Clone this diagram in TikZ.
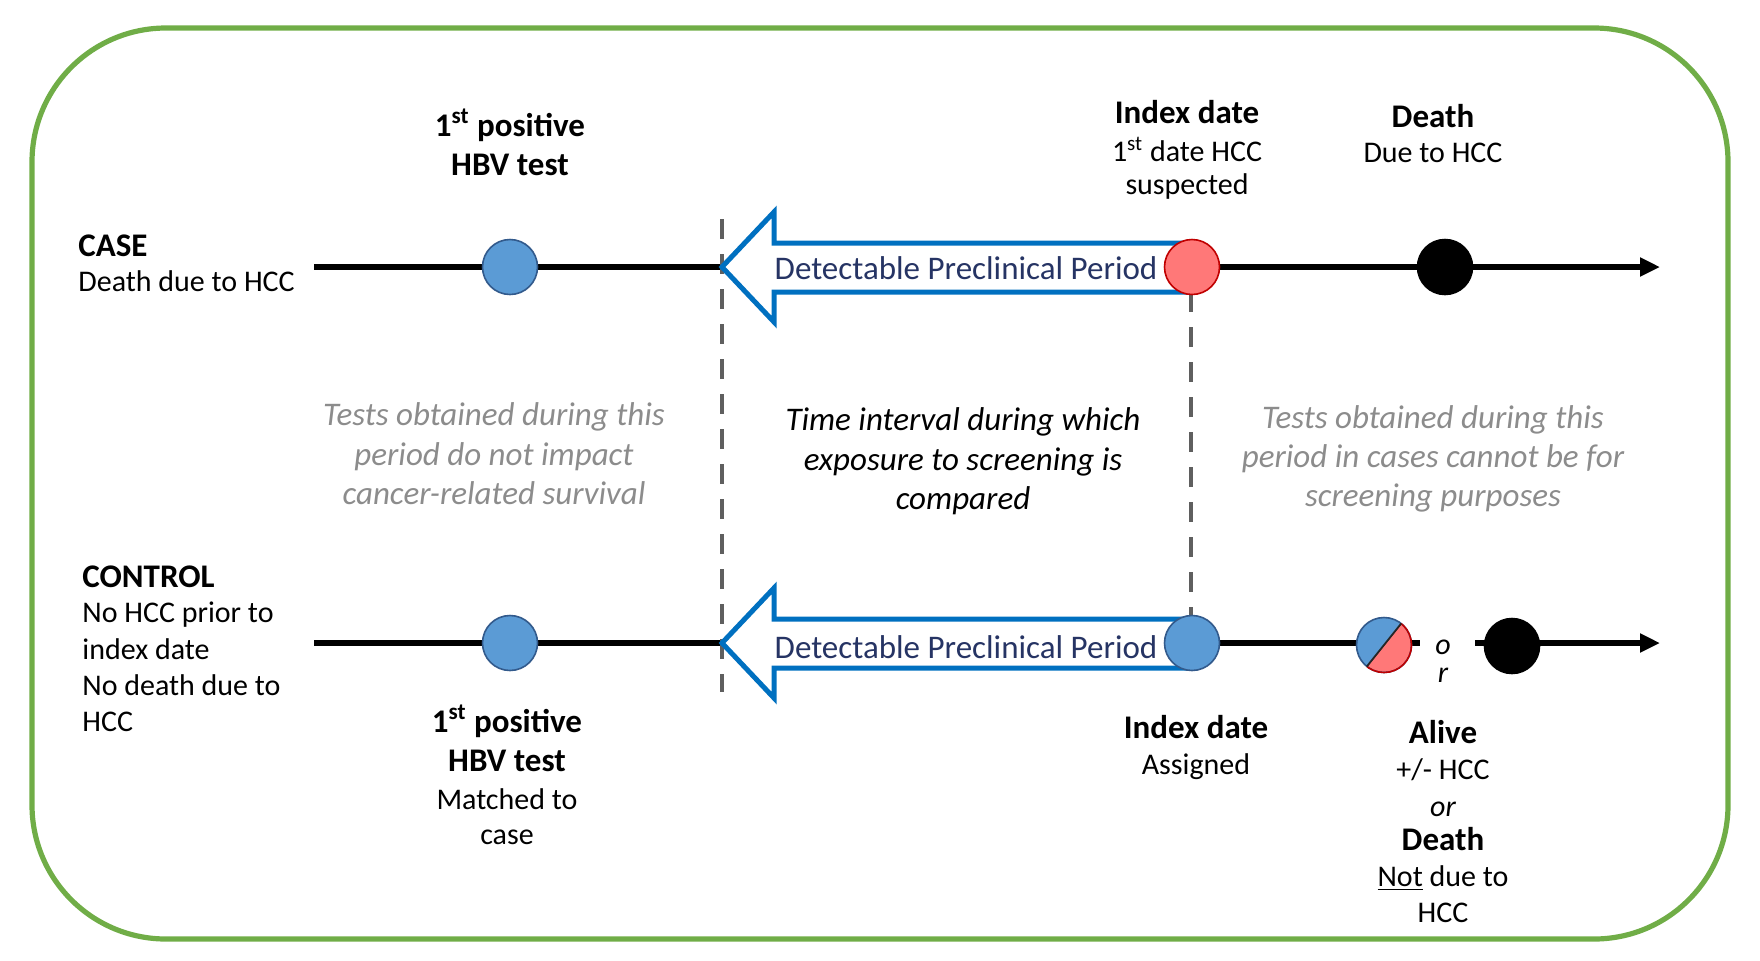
\documentclass[tikz,border=0pt]{standalone}
\usepackage{fontspec}
\setmainfont{Carlito}
\usetikzlibrary{arrows.meta}
\definecolor{boxgreen}{RGB}{112,173,71}
\definecolor{dotblue}{RGB}{91,155,213}
\definecolor{dotblueb}{RGB}{50,90,140}
\definecolor{dotred}{RGB}{255,120,120}
\definecolor{dotredb}{RGB}{192,0,0}
\definecolor{arrblue}{RGB}{0,112,192}
\definecolor{navytext}{RGB}{38,52,100}
\definecolor{graytext}{RGB}{140,140,140}
\definecolor{dashgray}{RGB}{95,95,95}
\tikzset{
  reg/.style={font=\fontsize{15}{18}\selectfont, inner sep=0pt, anchor=base},
  bld/.style={font=\bfseries\fontsize{16.5}{20}\selectfont, inner sep=0pt, anchor=base},
  itg/.style={font=\itshape\fontsize{16.5}{20}\selectfont, text=graytext, inner sep=0pt, anchor=base},
  itb/.style={font=\itshape\fontsize{16.5}{20}\selectfont, inner sep=0pt, anchor=base},
  itr/.style={font=\itshape\fontsize{15}{18}\selectfont, inner sep=0pt, anchor=base},
  dpp/.style={font=\fontsize{16.5}{20}\selectfont, text=navytext, inner sep=0pt, anchor=base},
  dot/.style={circle, minimum size=27.5pt, inner sep=0pt, line width=0.8pt},
  bluedot/.style={dot, fill=dotblue, draw=dotblueb},
  reddot/.style={dot, fill=dotred, draw=dotredb},
  blackdot/.style={dot, fill=black, draw=black},
  timeline/.style={line width=2.8pt},
  tlarrow/.style={timeline, -{Triangle[length=10pt,width=9pt]}},
  vdash/.style={draw=dashgray, line width=2pt, dash pattern=on 10pt off 7.5pt},
  blockarrow/.style={draw=arrblue, fill=white, line width=2.5pt, line join=miter}
}
\begin{document}
\begin{tikzpicture}[x=0.5pt,y=-0.5pt]
\useasboundingbox (0,0) rectangle (1760,960);
\draw[boxgreen, line width=2.6pt, rounded corners=67pt] (32,28) rectangle (1728,939);

% coordinates
\coordinate (caseStart) at (314,267);
\coordinate (caseEnd) at (1660,267);
\coordinate (ctrlStart) at (314,643);
\coordinate (ctrlGapA) at (1420,643);
\coordinate (ctrlGapB) at (1475,643);
\coordinate (ctrlEnd) at (1660,643);
\coordinate (dashLtop) at (722,219);
\coordinate (dashLbot) at (722,692);
\coordinate (dashRtop) at (1191,292);
\coordinate (dashRbot) at (1191,623);

% timelines
\draw[tlarrow] (caseStart) -- (caseEnd);
\draw[timeline] (ctrlStart) -- (ctrlGapA);
\draw[tlarrow] (ctrlGapB) -- (ctrlEnd);

% dashed separators
\draw[vdash] (dashLtop) -- (dashLbot);
\draw[vdash] (dashRtop) -- (dashRbot);

% block arrows
\draw[blockarrow] (722,267) -- (774,212) -- (774,243) -- (1190,243) -- (1190,292) -- (774,292) -- (774,322) -- cycle;
\draw[blockarrow] (722,643) -- (774,588) -- (774,619) -- (1190,619) -- (1190,668) -- (774,668) -- (774,698) -- cycle;
\node[dpp] (dppCase) at (966,279) {Detectable Preclinical Period};
\node[dpp] (dppCtrl) at (966,658) {Detectable Preclinical Period};

% case dots
\node[bluedot] (caseHBV) at (510,267) {};
\node[reddot] (caseIndex) at (1192,267) {};
\node[blackdot] (caseDeath) at (1445,267) {};

% control dots
\node[bluedot] (ctrlHBV) at (510,643) {};
\node[bluedot] (ctrlIndex) at (1192,643) {};
\coordinate (splitc) at (1384,645);
\begin{scope}
  \clip (splitc) circle[radius=13.75pt];
  \fill[dotblue] (splitc) circle[radius=13.75pt];
  \fill[dotred] (1344,695) -- (1424,595) -- (1460,720) -- cycle;
\end{scope}
\node[dot, draw=dotblueb] (ctrlSplit) at (splitc) {};
\begin{scope}
  \clip (1344,695) -- (1424,595) -- (1460,720) -- cycle;
  \draw[dotredb, line width=0.8pt] (splitc) circle[radius=13.75pt];
\end{scope}
\draw[line width=0.9pt, draw=black!85] (1366.8,666.5) -- (1401.2,623.5);
\node[blackdot] (ctrlDeath) at (1512,646) {};
\node[itr] (orO) at (1443,654) {o};
\node[itr] (orR) at (1443,682) {r};

% top labels
\node[bld] (hbvA) at (510,136) {1\textsuperscript{st} positive};
\node[bld] (hbvB) at (510,175) {HBV test};
\node[bld, anchor=base west] (caseT) at (78,256) {CASE};
\node[reg, anchor=base west] (caseD) at (78,291) {Death due to HCC};
\node[bld] (idxA) at (1187,123) {Index date};
\node[reg] (idxB) at (1187,161) {1\textsuperscript{st} date HCC};
\node[reg] (idxC) at (1187,194) {suspected};
\node[bld] (dthA) at (1433,127) {Death};
\node[reg] (dthB) at (1433,162) {Due to HCC};

% middle texts
\node[itg] (gl1) at (494,425) {Tests obtained during this};
\node[itg] (gl2) at (494,465) {period do not impact};
\node[itg] (gl3) at (494,504) {cancer-related survival};
\node[itb] (m1) at (963,430) {Time interval during which};
\node[itb] (m2) at (963,470) {exposure to screening is};
\node[itb] (m3) at (963,509) {compared};
\node[itg] (gr1) at (1433,428) {Tests obtained during this};
\node[itg] (gr2) at (1433,467) {period in cases cannot be for};
\node[itg] (gr3) at (1433,506) {screening purposes};

% control labels
\node[bld, anchor=base west] (ctT) at (82,587) {CONTROL};
\node[reg, anchor=base west] (ct1) at (82,622) {No HCC prior to};
\node[reg, anchor=base west] (ct2) at (82,659) {index date};
\node[reg, anchor=base west] (ct3) at (82,695) {No death due to};
\node[reg, anchor=base west] (ct4) at (82,731) {HCC};

\node[bld] (bh1) at (507,732) {1\textsuperscript{st} positive};
\node[bld] (bh2) at (507,771) {HBV test};
\node[reg] (bh3) at (507,809) {Matched to};
\node[reg] (bh4) at (507,844) {case};

\node[bld] (bi1) at (1196,738) {Index date};
\node[reg] (bi2) at (1196,774) {Assigned};

\node[bld] (al1) at (1443,743) {Alive};
\node[reg] (al2) at (1443,779) {+/- HCC};
\node[itr] (al3) at (1443,816) {or};
\node[bld] (al4) at (1443,850) {Death};
\node[reg] (al5) at (1443,886) {\underline{Not} due to};
\node[reg] (al6) at (1443,922) {HCC};
\end{tikzpicture}
\end{document}
